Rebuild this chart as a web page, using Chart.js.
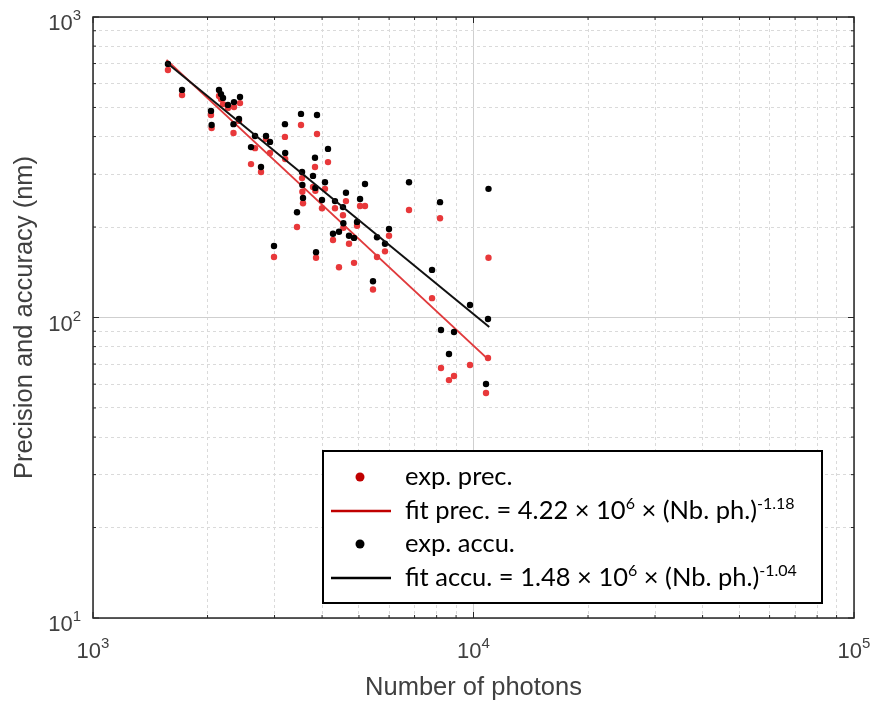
<!DOCTYPE html>
<html>
<head>
<meta charset="utf-8">
<script src="https://cdn.jsdelivr.net/npm/chart.js@4/dist/chart.umd.min.js"></script>
<style>
  html, body { margin: 0; padding: 0; background: #fff; }
  #wrap { width: 877px; height: 701px; }
</style>
</head>
<body>
<div id="wrap"><canvas id="chart"></canvas></div>
<script>
// number of photons for each localisation
const photons = [1574, 1714, 2042, 2050, 2144, 2170, 2196, 2263, 2347, 2434,
  2340, 2419, 2602, 2666, 2849, 2919, 2764, 2990, 3195, 3200,
  3437, 3521, 3543, 3550, 3564, 3786, 3832, 3840, 3856, 3879,
  3998, 4071, 4146, 4273, 4325, 4431, 4539, 4550, 4622, 4708,
  4853, 4942, 5033, 5186, 5443, 5577, 5853, 5997, 6769, 7781,
  8166, 8214, 8621, 8887, 9790, 10786, 10917, 10950];
// precision (nm), red points
const precision = [666, 550, 472, 427, 546, 533, 513, 498, 502, 517,
  411, 451, 324, 366, 393, 353, 305, 159, 399, 337,
  200, 437, 291, 262, 240, 272, 317, 264, 158, 408,
  231, 268, 329, 181, 231, 147, 219, 199, 244, 176,
  152, 202, 235, 235, 124, 159, 166, 187, 228, 116,
  214, 67.9, 61.9, 63.9, 69.5, 56.1, 73.3, 158];
// accuracy (nm), black points
const accuracy = [698, 572, 487, 437, 572, 554, 538, 510, 521, 542,
  440, 458, 369, 402, 402, 384, 317, 173, 440, 353,
  224, 476, 305, 276, 250, 296, 340, 270, 165, 472,
  246, 282, 364, 190, 244, 193, 233, 206, 260, 187,
  184, 208, 248, 278, 132, 185, 176, 197, 282, 144,
  242, 90.9, 75.6, 89.5, 110, 60.1, 98.9, 268];

// fitted power laws, end points as drawn
const fitX = [1560, 11000];
const fitPrec = [720, 72];
const fitAccu = [706, 93];

const xTicks = [1000, 10000, 100000];
const xTickLabels = [["10", "3"], ["10", "4"], ["10", "5"]];
const yTicks = [10, 100, 1000];
const yTickLabels = [["10", "1"], ["10", "2"], ["10", "3"]];

const legendLabels = [
  [["exp. prec.", false]],
  [["fit prec. = 4.22 \u00d7 10", false], ["6", true], [" \u00d7 (Nb. ph.)", false], ["-1.18", true]],
  [["exp. accu.", false]],
  [["fit accu. = 1.48 \u00d7 10", false], ["6", true], [" \u00d7 (Nb. ph.)", false], ["-1.04", true]]
];

const RED = "#e8383a";
const RED_DARK = "#c00000";
const BLACK = "#000000";
const TXT = "#404040";

function decadeSteps(lo, hi) {
  const out = [];
  for (let d = lo; d < hi; d *= 10) for (let k = 1; k < 10; k++) out.push(d * k);
  out.push(hi);
  return out;
}
function isDecade(v) {
  const l = Math.log10(v);
  return Math.abs(l - Math.round(l)) < 1e-9;
}

const precPts = photons.map((x, i) => ({ x: x, y: precision[i] }));
const accuPts = photons.map((x, i) => ({ x: x, y: accuracy[i] }));

const gridColor = ctx => (ctx.tick && isDecade(ctx.tick.value)) ? "#cfcfcf" : "#dadada";
const gridDash = ctx => (ctx.tick && isDecade(ctx.tick.value)) ? [] : [3, 3];

// frame, inward ticks, tick labels, titles and legend
const decor = {
  id: "decor",
  afterDraw(chart) {
    const { ctx, chartArea: a, scales } = chart;
    ctx.save();
    // box
    ctx.strokeStyle = "#262626";
    ctx.lineWidth = 1.5;
    ctx.strokeRect(a.left, a.top, a.right - a.left, a.bottom - a.top);
    // inward ticks
    ctx.lineWidth = 1;
    decadeSteps(1000, 100000).forEach(v => {
      const px = scales.x.getPixelForValue(v);
      const len = isDecade(v) ? 6 : 3;
      ctx.beginPath();
      ctx.moveTo(px, a.bottom); ctx.lineTo(px, a.bottom - len);
      ctx.moveTo(px, a.top); ctx.lineTo(px, a.top + len);
      ctx.stroke();
    });
    decadeSteps(10, 1000).forEach(v => {
      const py = scales.y.getPixelForValue(v);
      const len = isDecade(v) ? 6 : 3;
      ctx.beginPath();
      ctx.moveTo(a.left, py); ctx.lineTo(a.left + len, py);
      ctx.moveTo(a.right, py); ctx.lineTo(a.right - len, py);
      ctx.stroke();
    });

    // tick labels
    ctx.fillStyle = TXT;
    ctx.textBaseline = "alphabetic";
    const baseF = "22px 'Liberation Sans', Arial, sans-serif";
    const supF = "15px 'Liberation Sans', Arial, sans-serif";
    xTicks.forEach((v, i) => {
      const [b, e] = xTickLabels[i];
      ctx.font = baseF; const wb = ctx.measureText(b).width;
      ctx.font = supF; const we = ctx.measureText(e).width;
      const x0 = scales.x.getPixelForValue(v) - (wb + we) / 2;
      ctx.font = baseF; ctx.textAlign = "left"; ctx.fillText(b, x0, a.bottom + 40);
      ctx.font = supF; ctx.fillText(e, x0 + wb, a.bottom + 30);
    });
    yTicks.forEach((v, i) => {
      const [b, e] = yTickLabels[i];
      const py = scales.y.getPixelForValue(v);
      ctx.font = supF; const we = ctx.measureText(e).width;
      ctx.font = baseF; const wb = ctx.measureText(b).width;
      const xr = a.left - 12;
      ctx.textAlign = "left";
      ctx.fillText(b, xr - we - wb, py + 13);
      ctx.font = supF; ctx.fillText(e, xr - we, py + 3);
    });

    // axis titles
    ctx.font = "25.5px 'Liberation Sans', Arial, sans-serif";
    ctx.textAlign = "center";
    ctx.fillText("Number of photons", (a.left + a.right) / 2, 695);
    ctx.save();
    ctx.translate(32, (a.top + a.bottom) / 2);
    ctx.rotate(-Math.PI / 2);
    ctx.fillText("Precision and accuracy (nm)", 0, 0);
    ctx.restore();

    // legend box
    const L = 323, T = 451, R = 822, B = 603;
    ctx.fillStyle = "#fff";
    ctx.fillRect(L, T, R - L, B - T);
    ctx.strokeStyle = "#000";
    ctx.lineWidth = 2;
    ctx.strokeRect(L, T, R - L, B - T);

    const lf = "25.5px Lato, 'Noto Sans', sans-serif";
    const lsf = "16px Lato, 'Noto Sans', sans-serif";
    const baselines = [485, 519, 552, 586];
    const kinds = ["dot", "line", "dot", "line"];
    const colors = [RED_DARK, RED_DARK, BLACK, BLACK];
    ctx.textAlign = "left";
    legendLabels.forEach((parts, i) => {
      const by = baselines[i];
      const cy = by - 8;
      ctx.fillStyle = colors[i];
      ctx.strokeStyle = colors[i];
      if (kinds[i] === "dot") {
        ctx.beginPath(); ctx.arc(360, cy, 4.5, 0, Math.PI * 2); ctx.fill();
      } else {
        ctx.lineWidth = 2.5;
        ctx.beginPath(); ctx.moveTo(331, cy); ctx.lineTo(391, cy); ctx.stroke();
      }
      ctx.fillStyle = "#000";
      let x = 405;
      parts.forEach(([t, sup]) => {
        ctx.font = sup ? lsf : lf;
        ctx.fillText(t, x, sup ? by - 10 : by);
        x += ctx.measureText(t).width;
      });
    });
    ctx.restore();
  }
};

new Chart(document.getElementById("chart"), {
  type: "scatter",
  data: {
    datasets: [
      { label: "exp. prec.", data: precPts, backgroundColor: RED, borderColor: RED,
        pointRadius: 3.2, pointBorderWidth: 0, order: 4 },
      { label: "fit prec.", type: "line", data: fitX.map((x, i) => ({ x: x, y: fitPrec[i] })),
        borderColor: "#e03a3c", borderWidth: 2, pointRadius: 0, fill: false, order: 3 },
      { label: "exp. accu.", data: accuPts, backgroundColor: BLACK, borderColor: BLACK,
        pointRadius: 3.2, pointBorderWidth: 0, order: 2 },
      { label: "fit accu.", type: "line", data: fitX.map((x, i) => ({ x: x, y: fitAccu[i] })),
        borderColor: "#111", borderWidth: 2, pointRadius: 0, fill: false, order: 1 }
    ]
  },
  options: {
    responsive: true,
    maintainAspectRatio: false,
    animation: false,
    layout: { padding: { left: 93, right: 23, top: 17, bottom: 83 } },
    plugins: { legend: { display: false }, tooltip: { enabled: false } },
    scales: {
      x: {
        type: "logarithmic", min: 1000, max: 100000,
        afterBuildTicks: s => { s.ticks = decadeSteps(1000, 100000).map(v => ({ value: v })); },
        ticks: { display: false },
        grid: { color: gridColor, lineWidth: 1, drawTicks: false },
        border: { display: false, dash: gridDash }
      },
      y: {
        type: "logarithmic", min: 10, max: 1000,
        afterBuildTicks: s => { s.ticks = decadeSteps(10, 1000).map(v => ({ value: v })); },
        ticks: { display: false },
        grid: { color: gridColor, lineWidth: 1, drawTicks: false },
        border: { display: false, dash: gridDash }
      }
    }
  },
  plugins: [decor]
});
</script>
</body>
</html>
